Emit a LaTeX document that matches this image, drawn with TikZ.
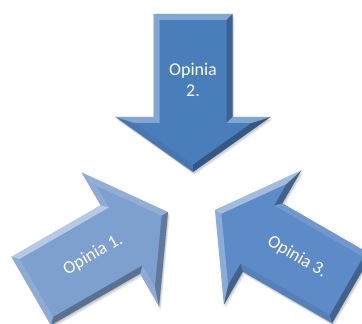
\documentclass[tikz,border=0pt]{standalone}
\usepackage{fontspec}
\setmainfont{Carlito}
\definecolor{topc}{RGB}{74,126,187}
\definecolor{leftc}{RGB}{126,160,206}
\definecolor{rightc}{RGB}{93,139,200}
\tikzset{
  optext/.style={text=white, font=\fontsize{18}{21}\selectfont, align=center, inner sep=0pt},
  arrowshape/.style={insert path={(0,0) -- (-55,77.5) -- (-55,39.5) -- (-158,39.5) -- (-158,-39.5) -- (-55,-39.5) -- (-55,-77.5) -- cycle}}
}
\newcommand\bevarrow[4]{%
  \foreach \s in {1,2,3}{
    \begin{scope}[shift={({#1+0.6*\s},{#2-1.0*\s})}, rotate=#3]
      \fill[black, opacity=0.08, arrowshape];
    \end{scope}}
  \begin{scope}[shift={(#1,#2)}, rotate=#3]
    \fill[#4, arrowshape];
    \foreach \ax/\ay/\bx/\by/\cx/\cy/\dx/\dy/\n in {
      0/0/-55/77.5/-49/58.67/-7.36/0/35.4,
      -55/77.5/-55/39.5/-49/33.5/-49/58.67/180,
      -55/39.5/-158/39.5/-152/33.5/-49/33.5/90,
      -158/39.5/-158/-39.5/-152/-33.5/-152/33.5/180,
      -158/-39.5/-55/-39.5/-49/-33.5/-152/-33.5/270,
      -55/-39.5/-55/-77.5/-49/-58.67/-49/-33.5/180,
      -55/-77.5/0/0/-7.36/0/-49/-58.67/-35.4}{
      \pgfmathsetmacro\f{cos(\n+#3-135)}
      \pgfmathsetmacro\w{max(\f,0)*0.45}
      \pgfmathsetmacro\k{max(-\f,0)*0.3}
      \fill[white, opacity=\w] (\ax,\ay) -- (\bx,\by) -- (\cx,\cy) -- (\dx,\dy) -- cycle;
      \fill[black, opacity=\k] (\ax,\ay) -- (\bx,\by) -- (\cx,\cy) -- (\dx,\dy) -- cycle;
    }
  \end{scope}}
\begin{document}
\begin{tikzpicture}[x=1pt, y=1pt]
  \useasboundingbox (0,0) rectangle (362,324);
  \fill[white] (0,0) rectangle (362,324);
  \bevarrow{193}{152}{-90}{topc}
  \bevarrow{168}{112}{30}{leftc}
  \bevarrow{215}{114}{150}{rightc}
  \node[optext] (t2) at (193,244) {Opinia\\2.};
  \node[optext, rotate=30] (t1) at (93,69) {Opinia 1.};
  \node[optext, rotate=-30] (t3) at (297,67) {Opinia 3.};
\end{tikzpicture}
\end{document}
